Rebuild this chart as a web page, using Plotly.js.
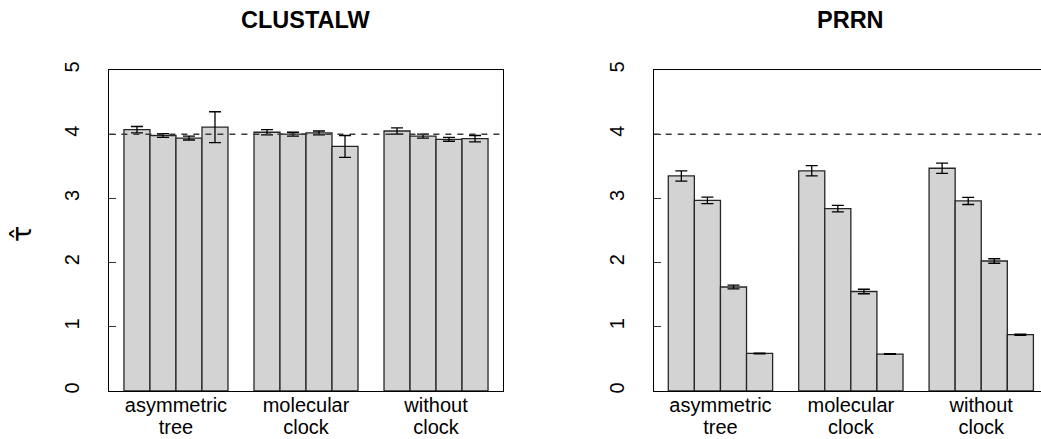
<!DOCTYPE html>
<html>
<head>
<meta charset="utf-8">
<script src="https://cdn.plot.ly/plotly-3.0.1.min.js"></script>
<style>
  html, body { margin: 0; padding: 0; overflow: hidden; background: #fff; }
  #chart { width: 1060px; height: 439px; }
</style>
</head>
<body>
<div id="chart"></div>
<script>
// ---- data ----
const categoryLine1 = ["asymmetric", "molecular", "without"];
const categoryLine2 = ["tree", "clock", "clock"];
const panelTitles = ["CLUSTALW", "PRRN"];
const yTickValues = [0, 1, 2, 3, 4, 5];
const referenceLevel = 4;

const clustalwMeans = [4.07, 3.98, 3.94, 4.11, 4.03, 4.00, 4.02, 3.81, 4.05, 3.97, 3.92, 3.93];
const clustalwErr   = [0.05, 0.03, 0.03, 0.24, 0.04, 0.03, 0.03, 0.17, 0.05, 0.03, 0.03, 0.05];
const prrnMeans     = [3.35, 2.97, 1.62, 0.585, 3.43, 2.84, 1.55, 0.575, 3.47, 2.96, 2.025, 0.877];
const prrnErr       = [0.08, 0.05, 0.03, 0.005, 0.08, 0.05, 0.035, 0.005, 0.08, 0.055, 0.035, 0.01];

// ---- layout helpers (R barplot beside=TRUE, space=c(0,1)) ----
const W = 1060, H = 439;
const barsPerGroup = 4;
function barX(n) {
  const xs = [];
  for (let i = 0; i < n; i++) {
    const g = Math.floor(i / barsPerGroup), k = i % barsPerGroup;
    xs.push(1 + (barsPerGroup + 1) * g + k + 0.5);
  }
  return xs;
}
const groupCenters = categoryLine1.map((_, g) => 1 + (barsPerGroup + 1) * g + barsPerGroup / 2);
const xRange = [0.44, 15.56];

const FONT = "Liberation Sans, Arial, Helvetica, sans-serif";
const dom1 = [109.4 / W, 502.6 / W];
const dom2 = [653.7 / W, 1048 / W];

function barTrace(means, errs, xa, ya) {
  return {
    type: "bar",
    x: barX(means.length),
    y: means,
    width: 1,
    xaxis: xa, yaxis: ya,
    marker: { color: "#d3d3d3", line: { color: "#262626", width: 1.3 } },
    error_y: { type: "data", array: errs, visible: true, color: "#000", thickness: 1.3, width: 6 },
    hoverinfo: "y",
    showlegend: false
  };
}
// empty helper trace so that the overlaid second-line label axis is drawn
function holderTrace(xa, ya) {
  return { type: "scatter", mode: "markers", x: [], y: [], xaxis: xa, yaxis: ya,
           showlegend: false, hoverinfo: "skip" };
}

const xCommon = {
  range: xRange, showgrid: false, zeroline: false,
  showline: true, mirror: true, linecolor: "#000", linewidth: 1.2,
  ticks: "", tickmode: "array", tickvals: groupCenters, ticktext: categoryLine1,
  tickfont: { family: FONT, size: 20, color: "#000" }, ticklabelstandoff: -4
};
function secondLineAxis(over, anchor, dom) {
  return {
    overlaying: over, anchor: anchor, side: "bottom", domain: dom,
    range: xRange, showgrid: false, zeroline: false, showline: false,
    ticks: "", tickmode: "array", tickvals: groupCenters, ticktext: categoryLine2,
    tickfont: { family: FONT, size: 20, color: "#000" }, ticklabelstandoff: 22
  };
}
const yCommon = {
  range: [0, 5], showgrid: false, zeroline: false,
  showline: true, mirror: true, linecolor: "#000", linewidth: 1.2,
  ticks: "inside", ticklen: 7, tickcolor: "#333", tickwidth: 1,
  tickmode: "array", tickvals: yTickValues, ticktext: yTickValues.map(String),
  tickangle: -90, tickfont: { family: FONT, size: 20, color: "#000" },
  ticklabelstandoff: 21,
  domain: [(H - 391) / H, (H - 70) / H]
};

const layout = {
  width: W, height: H,
  margin: { l: 0, r: 0, t: 0, b: 0 },
  paper_bgcolor: "#fff", plot_bgcolor: "#fff",
  font: { family: FONT, color: "#000" },
  bargap: 0,
  xaxis: Object.assign({}, xCommon, { domain: dom1, anchor: "y" }),
  yaxis: Object.assign({}, yCommon, { anchor: "x" }),
  xaxis2: Object.assign({}, xCommon, { domain: dom2, anchor: "y2" }),
  yaxis2: Object.assign({}, yCommon, { anchor: "x2" }),
  xaxis3: secondLineAxis("x", "y", dom1),
  xaxis4: secondLineAxis("x2", "y2", dom2),
  shapes: [
    { type: "line", xref: "x domain", yref: "y", x0: 0, x1: 1, y0: referenceLevel, y1: referenceLevel,
      line: { color: "#3a3a3a", width: 1.5, dash: "6px,6px" }, layer: "above" },
    { type: "line", xref: "x2 domain", yref: "y2", x0: 0, x1: 1, y0: referenceLevel, y1: referenceLevel,
      line: { color: "#3a3a3a", width: 1.5, dash: "6px,6px" }, layer: "above" }
  ],
  annotations: [
    { text: "<b>" + panelTitles[0] + "</b>", xref: "paper", yref: "paper",
      x: 306 / W, y: 1 - 20 / H, showarrow: false, xanchor: "center", yanchor: "middle",
      font: { family: FONT, size: 23.5, color: "#000" } },
    { text: "<b>" + panelTitles[1] + "</b>", xref: "paper", yref: "paper",
      x: 850.8 / W, y: 1 - 20 / H, showarrow: false, xanchor: "center", yanchor: "middle",
      font: { family: FONT, size: 23.5, color: "#000" } },
    { text: "τ\u0302", xref: "paper", yref: "paper",
      x: 21 / W, y: 1 - 234 / H, showarrow: false, textangle: -90,
      xanchor: "center", yanchor: "middle",
      font: { family: "DejaVu Sans, " + FONT, size: 27, color: "#000" } }
  ]
};

Plotly.newPlot("chart", [
  barTrace(clustalwMeans, clustalwErr, "x", "y"),
  barTrace(prrnMeans, prrnErr, "x2", "y2"),
  holderTrace("x3", "y"),
  holderTrace("x4", "y2")
], layout, { staticPlot: true, displayModeBar: false });
</script>
</body>
</html>
